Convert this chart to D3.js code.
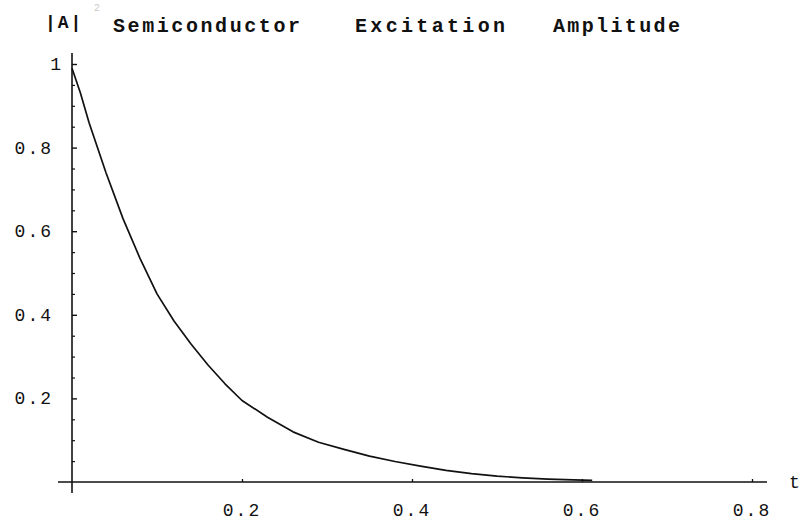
<!DOCTYPE html>
<html>
<head>
<meta charset="utf-8">
<script src="https://cdn.jsdelivr.net/npm/d3@7/dist/d3.min.js"></script>
<style>
  html, body { margin: 0; padding: 0; background: #fff; }
  svg { display: block; }
  text { font-family: "Liberation Mono", "DejaVu Sans Mono", monospace; fill: #111; }
</style>
</head>
<body>
<svg id="chart" width="802" height="527"></svg>
<script>
// ---- data ----
const tValues = [0, 0.01, 0.02, 0.04, 0.06, 0.08, 0.10, 0.12, 0.14, 0.16, 0.18, 0.20,
                 0.23, 0.26, 0.29, 0.32, 0.35, 0.38, 0.41, 0.44, 0.47, 0.50, 0.53, 0.56, 0.59, 0.612];
const ampValues = [0.99, 0.93, 0.86, 0.74, 0.63, 0.535, 0.45, 0.385, 0.33, 0.28, 0.235, 0.195,
                   0.155, 0.12, 0.095, 0.078, 0.062, 0.049, 0.038, 0.028, 0.02, 0.014, 0.01, 0.007, 0.005, 0.004];
const xTickValues = [0.2, 0.4, 0.6, 0.8];
const xTickLabels = ["0.2", "0.4", "0.6", "0.8"];
const yTickValues = [0.2, 0.4, 0.6, 0.8, 1];
const yTickLabels = ["0.2", "0.4", "0.6", "0.8", "1"];
const yMinorValues = [0.05, 0.1, 0.15, 0.25, 0.3, 0.35, 0.45, 0.5, 0.55, 0.65, 0.7, 0.75, 0.85, 0.9, 0.95];
const titleWords = ["Semiconductor", "Excitation", "Amplitude"];
const yAxisLabel = "|A|";
const xAxisLabel = "t";

// ---- drawing ----
const svg = d3.select("#chart");
svg.append("rect").attr("width", 802).attr("height", 527).attr("fill", "#fff");

const x = d3.scaleLinear().domain([0, 0.8]).range([72, 752]);
const y = d3.scaleLinear().domain([0, 1]).range([482, 64]);

// axis lines
svg.append("line").attr("x1", 58).attr("x2", 767).attr("y1", y(0)).attr("y2", y(0))
  .attr("stroke", "#111").attr("stroke-width", 1.6);
svg.append("line").attr("x1", x(0)).attr("x2", x(0)).attr("y1", 53).attr("y2", 493)
  .attr("stroke", "#111").attr("stroke-width", 1.6);

// x ticks (pointing up)
const xAxis = d3.axisTop(x).tickValues(xTickValues).tickSize(3).tickFormat("");
const gx = svg.append("g").attr("transform", `translate(0,${y(0)})`).call(xAxis);
gx.select(".domain").remove();
gx.selectAll("line").attr("stroke", "#111").attr("stroke-width", 1.3);

// y ticks (pointing right)
const yAxisMajor = d3.axisRight(y).tickValues(yTickValues).tickSize(5).tickFormat("");
const gy = svg.append("g").attr("transform", `translate(${x(0)},0)`).call(yAxisMajor);
gy.select(".domain").remove();
gy.selectAll("line").attr("stroke", "#111").attr("stroke-width", 1.4);

const yAxisMinor = d3.axisRight(y).tickValues(yMinorValues).tickSize(3).tickFormat("");
const gym = svg.append("g").attr("transform", `translate(${x(0)},0)`).call(yAxisMinor);
gym.select(".domain").remove();
gym.selectAll("line").attr("stroke", "#111").attr("stroke-width", 1.2);

// tick labels
svg.append("g").selectAll("text").data(xTickValues).join("text")
  .attr("x", d => x(d)).attr("y", 516)
  .attr("text-anchor", "middle")
  .attr("font-size", 18).attr("letter-spacing", 2)
  .text((d, i) => xTickLabels[i]);

svg.append("g").selectAll("text").data(yTickValues).join("text")
  .attr("x", d => d === 1 ? 63 : 53).attr("y", d => y(d) + 6)
  .attr("text-anchor", "end")
  .attr("font-size", 18).attr("letter-spacing", 2)
  .text((d, i) => yTickLabels[i]);

// curve
const pts = tValues.map((t, i) => [t, ampValues[i]]);
svg.append("path").datum(pts)
  .attr("fill", "none").attr("stroke", "#111").attr("stroke-width", 1.7)
  .attr("stroke-linejoin", "round")
  .attr("d", d3.line().x(d => x(d[0])).y(d => y(d[1])).curve(d3.curveLinear));

// axis labels
svg.append("text").attr("x", 45).attr("y", 28).attr("font-size", 18).attr("letter-spacing", 2)
  .attr("font-weight", "bold").text(yAxisLabel);
svg.append("text").attr("x", 94).attr("y", 11).attr("font-size", 10)
  .style("fill", "#ccc").text("2");
svg.append("text").attr("x", 789).attr("y", 488).attr("font-size", 18).text(xAxisLabel);

// title words
const titlePos = [[113, 300], [355, 505], [553, 680]];
svg.append("g").selectAll("text").data(titleWords).join("text")
  .attr("x", (d, i) => titlePos[i][0]).attr("y", 32)
  .attr("font-size", 20).attr("font-weight", "bold")
  .attr("textLength", (d, i) => titlePos[i][1] - titlePos[i][0])
  .attr("lengthAdjust", "spacing")
  .text(d => d);
</script>
</body>
</html>
